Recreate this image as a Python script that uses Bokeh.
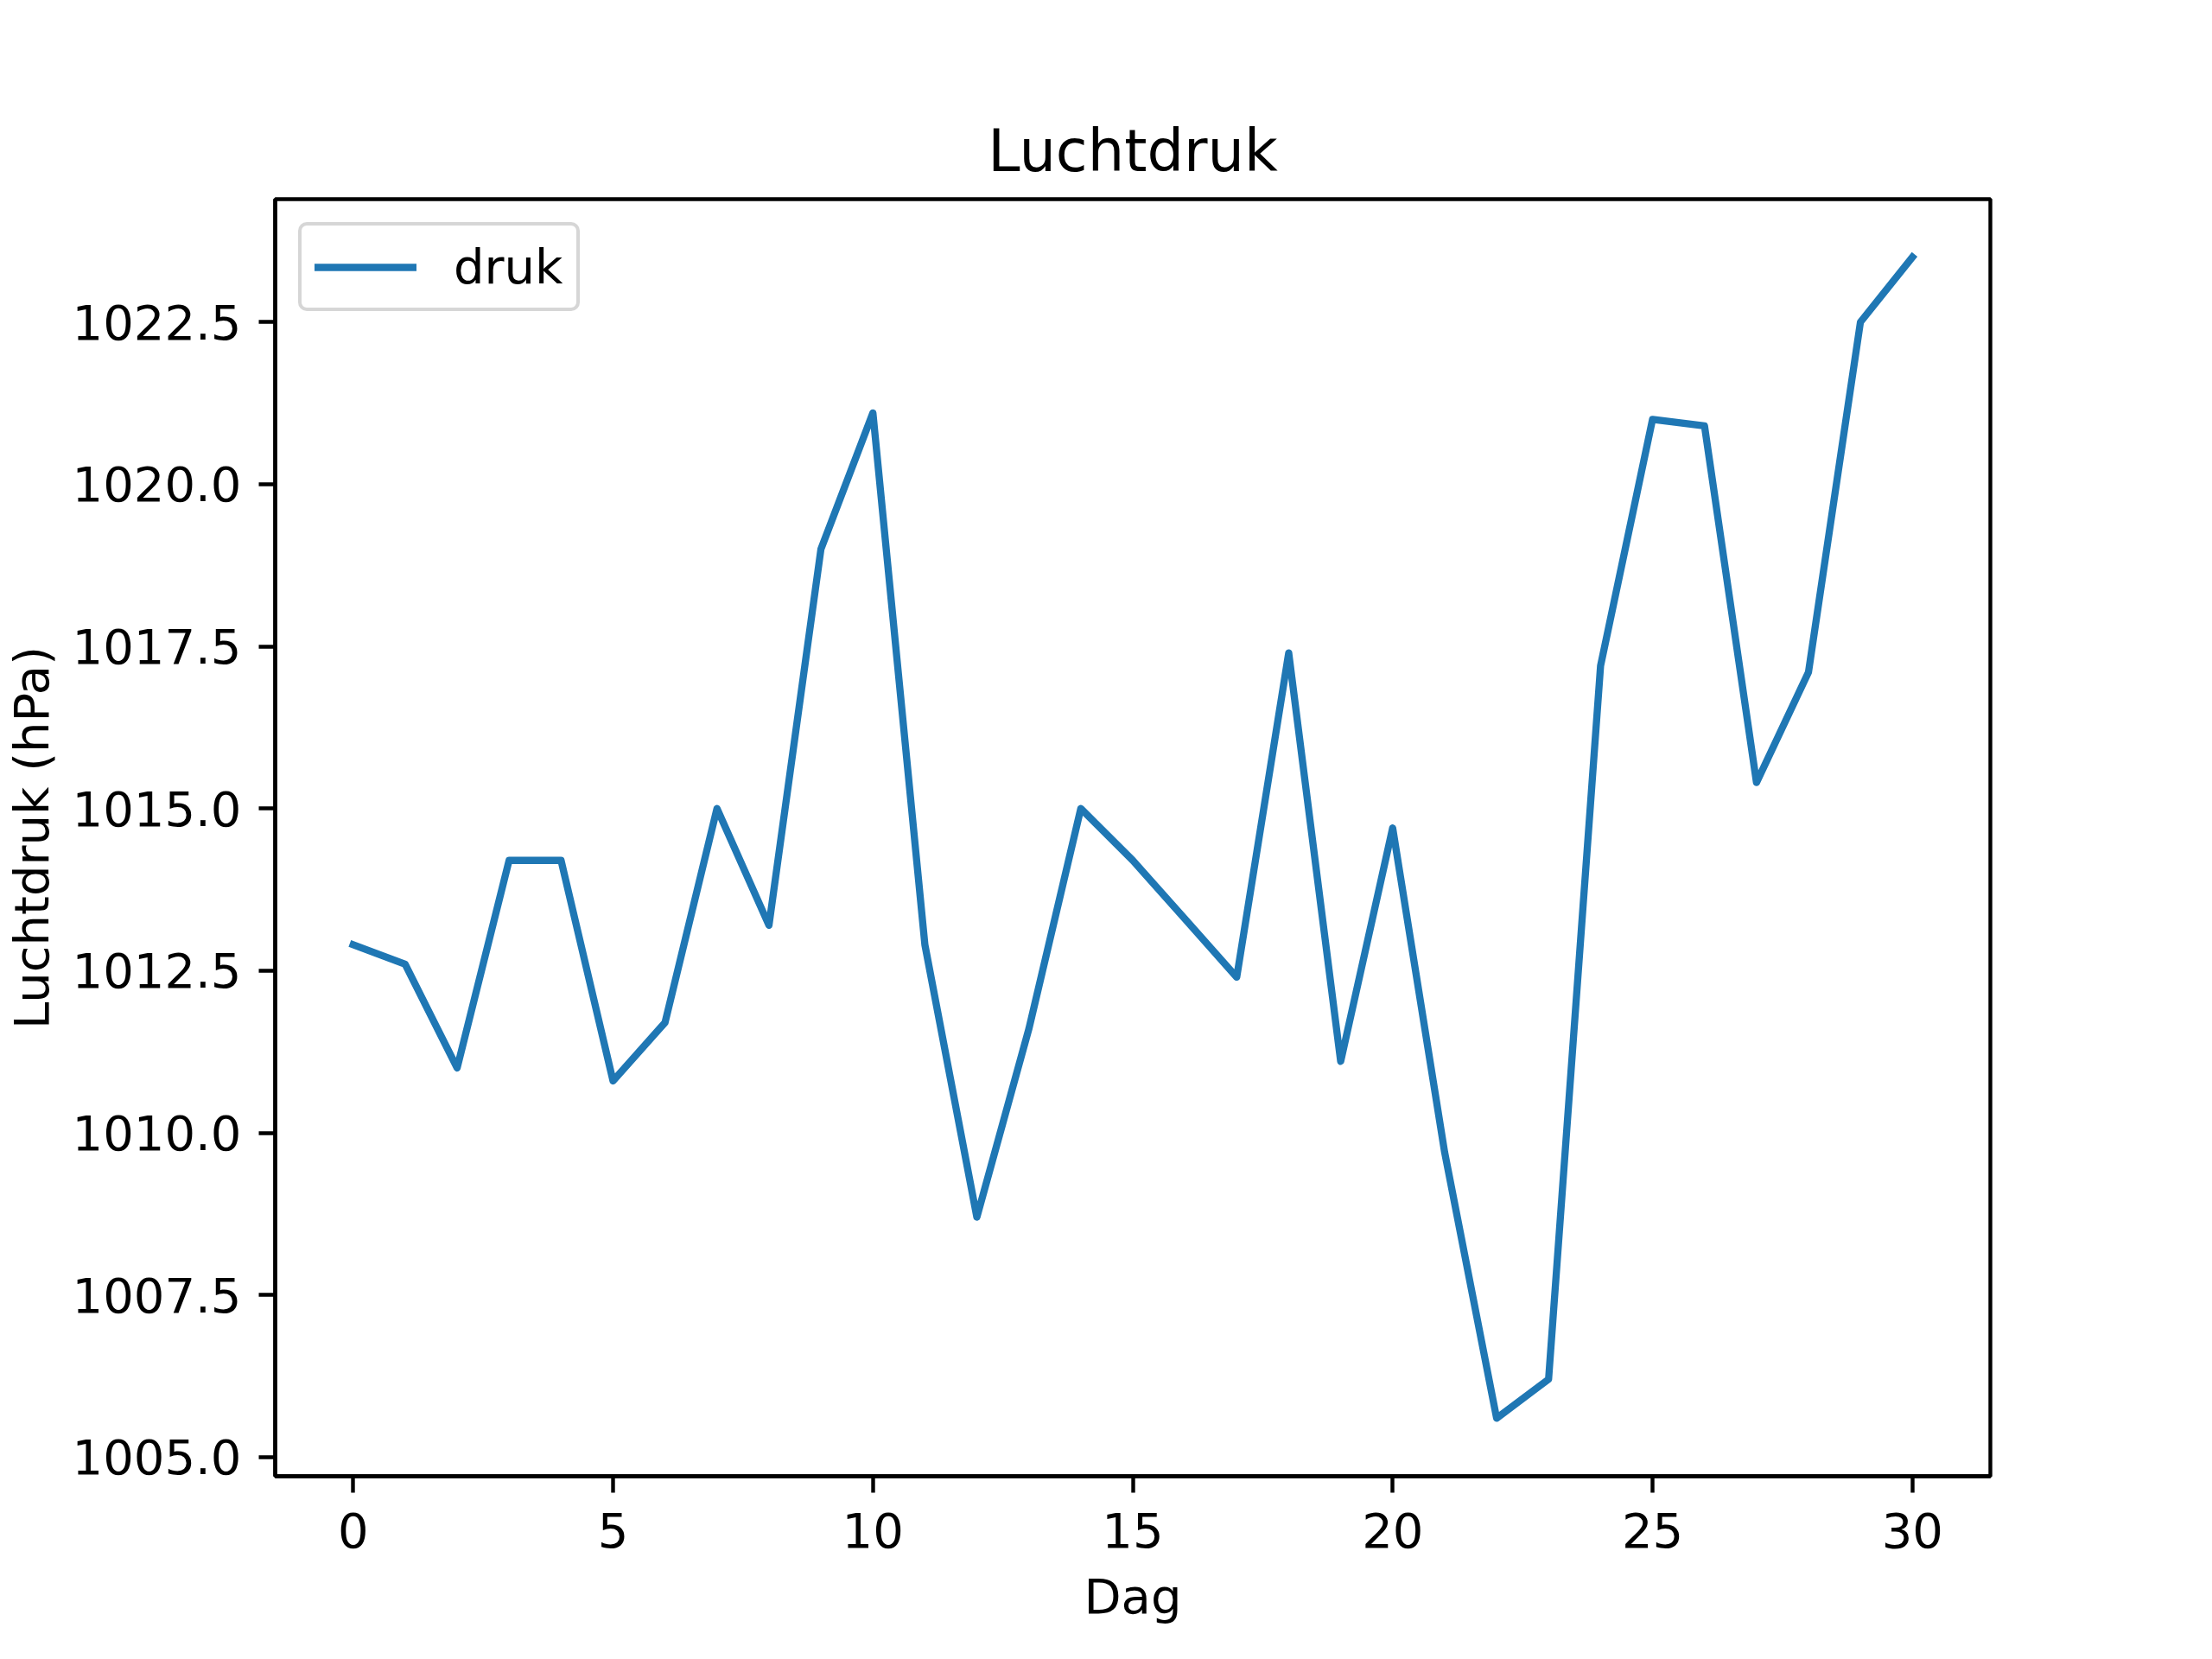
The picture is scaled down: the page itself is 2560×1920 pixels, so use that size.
from bokeh.plotting import figure
from bokeh.models import Range1d, FixedTicker, PrintfTickFormatter, Legend, LegendItem
from bokeh.embed import file_html
from bokeh.resources import INLINE

dag = list(range(31))
druk = [1012.9, 1012.6, 1011.0, 1014.2, 1014.2, 1010.8, 1011.7, 1015.0, 1013.2, 1019.0,
        1021.1, 1012.9, 1008.7, 1011.6, 1015.0, 1014.2, 1013.3, 1012.4, 1017.4, 1011.1,
        1014.7, 1009.7, 1005.6, 1006.2, 1017.2, 1021.0, 1020.9, 1015.4, 1017.1, 1022.5,
        1023.5]
x_ticks = [0, 5, 10, 15, 20, 25, 30]
y_ticks = [1005.0, 1007.5, 1010.0, 1012.5, 1015.0, 1017.5, 1020.0, 1022.5]
title_text = "Luchtdruk"
x_label = "Dag"
y_label = "Luchtdruk (hPa)"
series_name = "druk"

FONT = "DejaVu Sans"

xmin, xmax = min(dag), max(dag)
ymin, ymax = min(druk), max(druk)
xm = (xmax - xmin) * 0.05
ym = (ymax - ymin) * 0.05

p = figure(width=2544, height=1904, output_backend="svg", toolbar_location=None,
           x_range=Range1d(xmin - xm, xmax + xm), y_range=Range1d(ymin - ym, ymax + ym),
           min_border_left=312, min_border_right=241, min_border_top=230, min_border_bottom=196)

p.title.text = title_text
p.title.align = "center"
p.title.text_font = FONT
p.title.text_font_size = "67px"
p.title.text_font_style = "normal"
p.title.text_color = "black"
p.title.standoff = 34

p.grid.visible = False
p.background_fill_color = "white"
p.border_fill_color = "white"
p.outline_line_color = "black"
p.outline_line_width = 4.4

for ax in (p.xaxis[0], p.yaxis[0]):
    ax.axis_line_color = "black"
    ax.axis_line_width = 4.4
    ax.major_tick_line_color = "black"
    ax.major_tick_line_width = 4.4
    ax.major_tick_out = 19
    ax.major_tick_in = 0
    ax.minor_tick_line_color = None
    ax.major_label_text_font = FONT
    ax.major_label_text_font_size = "56px"
    ax.major_label_text_color = "black"
    ax.axis_label_text_font = FONT
    ax.axis_label_text_font_size = "56px"
    ax.axis_label_text_font_style = "normal"
    ax.axis_label_text_color = "black"

p.xaxis[0].ticker = FixedTicker(ticks=x_ticks)
p.yaxis[0].ticker = FixedTicker(ticks=y_ticks)
p.yaxis[0].formatter = PrintfTickFormatter(format="%.1f")
p.xaxis[0].axis_label = x_label
p.yaxis[0].axis_label = y_label
p.xaxis[0].major_label_standoff = 23
p.yaxis[0].major_label_standoff = 20
p.xaxis[0].axis_label_standoff = 21
p.yaxis[0].axis_label_standoff = 12

r = p.line(dag, druk, line_color="#1f77b4", line_width=8.3, line_join="round", line_cap="square")

legend = Legend(items=[LegendItem(label=series_name, renderers=[r])], location="top_left")
legend.margin = 27
legend.padding = 15
legend.glyph_width = 118
legend.glyph_height = 56
legend.label_height = 56
legend.label_standoff = 43
legend.label_text_font = FONT
legend.label_text_font_size = "56px"
legend.label_text_color = "black"
legend.border_line_color = "#cccccc"
legend.border_line_alpha = 0.8
legend.border_line_width = 4.4
legend.border_radius = 10
legend.background_fill_alpha = 0.8
p.add_layout(legend)

open("out.html", "w").write(file_html(p, INLINE))
